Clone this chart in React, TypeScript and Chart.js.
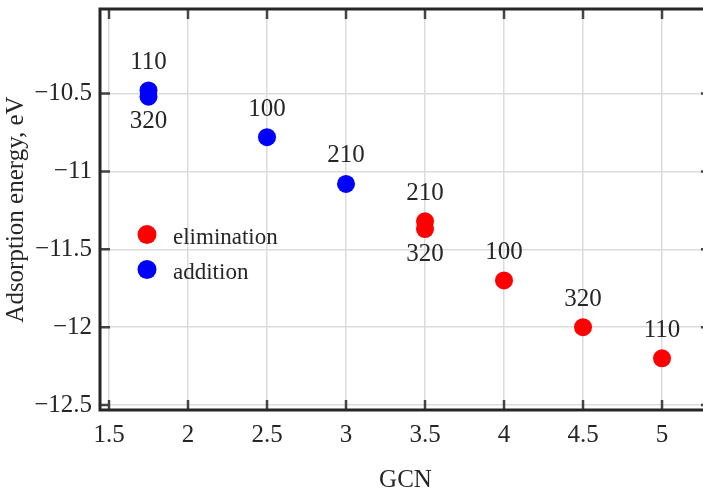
import React, { useEffect, useRef } from 'react';
import { Chart, registerables } from 'chart.js';
Chart.register(...registerables);

const xTicks = [1.5, 2, 2.5, 3, 3.5, 4, 4.5, 5];
const yTicks = [-12.5, -12, -11.5, -11, -10.5];
const xRange = [1.443, 5.31];
const yRange = [-12.532, -9.957];

const elimX = [3.5, 3.5, 4, 4.5, 5];
const elimY = [-11.32, -11.37, -11.7, -12.0, -12.2];
const elimLabels = ['210', '320', '100', '320', '110'];
const elimLabelPos = ['above', 'below', 'above', 'above', 'above'];

const addX = [1.75, 1.75, 2.5, 3];
const addY = [-10.48, -10.52, -10.78, -11.08];
const addLabels = ['110', '320', '100', '210'];
const addLabelPos = ['above', 'below', 'above', 'above'];

const seriesNames = ['elimination', 'addition'];
const seriesColors = ['#ff0000', '#0000ff'];

const FONT = '"Liberation Serif", "Times New Roman", serif';
const TEXT = '#262626';

const W = 720;
const H = 493;

const framePlugin = {
  id: 'framePlugin',
  afterDatasetsDraw(chart: any) {
    const ctx = chart.ctx;
    const xs = chart.scales.x;
    const ys = chart.scales.y;
    ctx.save();
    ctx.font = `25px ${FONT}`;
    ctx.fillStyle = TEXT;
    ctx.textAlign = 'center';
    ctx.textBaseline = 'middle';
    chart.data.datasets.forEach((ds: any) => {
      ds.data.forEach((p: any, i: number) => {
        const px = xs.getPixelForValue(p.x);
        const py = ys.getPixelForValue(p.y);
        const off = ds.labelPos[i] === 'above' ? -28 : 25;
        ctx.fillText(ds.pointLabels[i], px, py + off);
      });
    });
    ctx.restore();
  },
  afterDraw(chart: any) {
    const ctx = chart.ctx;
    const { left, right, top, bottom } = chart.chartArea;
    const xs = chart.scales.x;
    const ys = chart.scales.y;
    ctx.save();
    ctx.strokeStyle = '#444444';
    ctx.lineWidth = 2.5;
    const tl = 10;
    ctx.beginPath();
    xTicks.forEach((v) => {
      const px = xs.getPixelForValue(v);
      ctx.moveTo(px, bottom);
      ctx.lineTo(px, bottom - tl);
      ctx.moveTo(px, top);
      ctx.lineTo(px, top + tl);
    });
    yTicks.forEach((v) => {
      const py = ys.getPixelForValue(v);
      ctx.moveTo(left, py);
      ctx.lineTo(left + tl, py);
      ctx.moveTo(right, py);
      ctx.lineTo(right - tl, py);
    });
    ctx.stroke();
    ctx.strokeStyle = '#262626';
    ctx.lineWidth = 3;
    ctx.beginPath();
    ctx.moveTo(right, top);
    ctx.lineTo(left, top);
    ctx.lineTo(left, bottom);
    ctx.lineTo(right, bottom);
    ctx.closePath();
    ctx.stroke();
    const lx = left + 47;
    const ly0 = top + 225.5;
    const dy = 35;
    chart.data.datasets.forEach((ds: any, i: number) => {
      const cy = ly0 + i * dy;
      ctx.fillStyle = ds.backgroundColor;
      ctx.beginPath();
      ctx.arc(lx, cy, 9.5, 0, Math.PI * 2);
      ctx.fill();
      ctx.fillStyle = TEXT;
      ctx.font = `23px ${FONT}`;
      ctx.textAlign = 'left';
      ctx.textBaseline = 'alphabetic';
      ctx.fillText(ds.label, lx + 26, cy + 9.5);
    });
    ctx.restore();
  },
};

export default function App() {
  const ref = useRef<HTMLCanvasElement | null>(null);
  useEffect(() => {
    if (!ref.current) return;
    const mk = (xv: number[], yv: number[]) => xv.map((x, i) => ({ x, y: yv[i] }));
    const chart = new Chart(ref.current, {
      type: 'scatter',
      data: {
        datasets: [
          {
            label: seriesNames[0],
            data: mk(elimX, elimY),
            backgroundColor: seriesColors[0],
            borderColor: seriesColors[0],
            pointRadius: 9,
            pointBorderWidth: 0,
            pointLabels: elimLabels,
            labelPos: elimLabelPos,
          } as any,
          {
            label: seriesNames[1],
            data: mk(addX, addY),
            backgroundColor: seriesColors[1],
            borderColor: seriesColors[1],
            pointRadius: 9,
            pointBorderWidth: 0,
            pointLabels: addLabels,
            labelPos: addLabelPos,
          } as any,
        ],
      },
      options: {
        animation: false,
        responsive: false,
        devicePixelRatio: 1,
        layout: { padding: { left: 0, top: 7, right: W - 711, bottom: 0 } },
        plugins: { legend: { display: false }, tooltip: { enabled: false } },
        scales: {
          x: {
            type: 'linear',
            min: xRange[0],
            max: xRange[1],
            afterBuildTicks: (s: any) => {
              s.ticks = xTicks.map((v) => ({ value: v }));
            },
            afterFit: (s: any) => {
              s.height = 83;
              s.paddingLeft = 0;
              s.paddingRight = 0;
            },
            grid: { color: '#dcdcdc', lineWidth: 1.5, drawTicks: false },
            border: { display: false },
            ticks: {
              padding: 10,
              color: TEXT,
              font: { family: FONT, size: 25 },
              maxRotation: 0,
              autoSkip: false,
              callback: (v: any) => String(v),
            },
            title: {
              display: true,
              text: 'GCN',
              color: TEXT,
              font: { family: FONT, size: 25, lineHeight: 1 },
              padding: { top: 0, bottom: 0 },
            },
          },
          y: {
            type: 'linear',
            min: yRange[0],
            max: yRange[1],
            afterBuildTicks: (s: any) => {
              s.ticks = yTicks.map((v) => ({ value: v }));
            },
            afterFit: (s: any) => {
              s.width = 100;
              s.paddingTop = 0;
              s.paddingBottom = 0;
            },
            grid: { color: '#dcdcdc', lineWidth: 1.5, drawTicks: false },
            border: { display: false },
            ticks: {
              padding: 8,
              color: TEXT,
              font: { family: FONT, size: 25 },
              autoSkip: false,
              callback: (v: any) => String(v).replace('-', '\u2212'),
            },
            title: {
              display: true,
              text: 'Adsorption energy, eV',
              color: TEXT,
              font: { family: FONT, size: 25, lineHeight: 1 },
              padding: { top: 4, bottom: 0 },
            },
          },
        },
      },
      plugins: [framePlugin],
    });
    return () => chart.destroy();
  }, []);
  return (
    <div style={{ position: 'fixed', left: 0, top: 0, width: W, height: H, background: '#fff' }}>
      <canvas ref={ref} width={W} height={H} style={{ display: 'block', width: W, height: H }} />
    </div>
  );
}
